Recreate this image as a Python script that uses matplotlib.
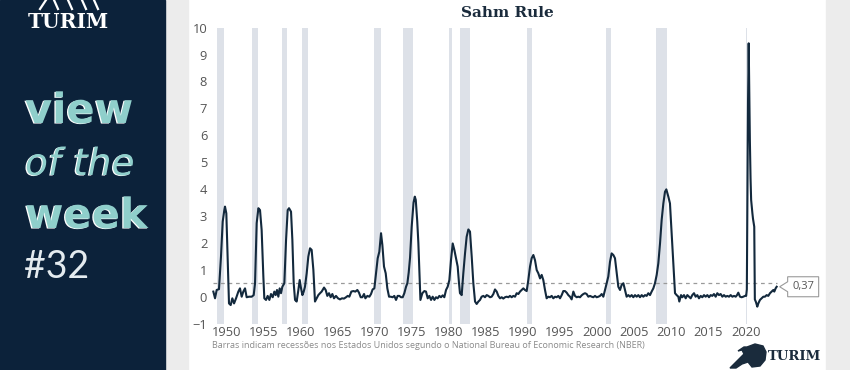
import matplotlib
matplotlib.use('Agg')
import matplotlib.pyplot as plt
import matplotlib.patheffects as pe
import matplotlib.transforms as mtransforms
from matplotlib.patches import Rectangle, Polygon

# NBER recessions (decimal years)
rec_start = [1948.83, 1953.50, 1957.58, 1960.25, 1969.92, 1973.83,
             1980.00, 1981.50, 1990.50, 2001.17, 2007.92, 2020.08]
rec_end = [1949.75, 1954.33, 1958.25, 1961.08, 1970.83, 1975.17,
           1980.50, 1982.83, 1991.17, 2001.83, 2009.42, 2020.25]

# Sahm rule indicator
years = [
    1948.27, 1948.50, 1948.72, 1949.03, 1949.30, 1949.53, 1949.75, 1949.84, 1950.02, 1950.20,
    1950.38, 1950.61, 1950.83, 1951.06, 1951.33, 1951.64, 1951.86, 1952.09, 1952.31, 1952.54,
    1952.76, 1953.08, 1953.44, 1953.71, 1953.89, 1954.11, 1954.34, 1954.56, 1954.78, 1955.01,
    1955.14, 1955.37, 1955.59, 1955.82, 1956.04, 1956.27, 1956.49, 1956.67, 1956.85, 1957.03,
    1957.21, 1957.39, 1957.57, 1957.84, 1958.07, 1958.29, 1958.47, 1958.74, 1958.92, 1959.10,
    1959.28, 1959.50, 1959.73, 1959.91, 1960.09, 1960.27, 1960.45, 1960.62, 1960.85, 1961.07,
    1961.30, 1961.52, 1961.75, 1961.97, 1962.20, 1962.42, 1962.65, 1962.87, 1963.19, 1963.41,
    1963.63, 1963.86, 1964.08, 1964.31, 1964.53, 1964.80, 1965.07, 1965.34, 1965.61, 1965.88,
    1966.15, 1966.38, 1966.60, 1966.87, 1967.14, 1967.41, 1967.68, 1967.90, 1968.13, 1968.35,
    1968.58, 1968.76, 1969.03, 1969.30, 1969.52, 1969.74, 1969.97, 1970.19, 1970.42, 1970.64,
    1970.87, 1971.05, 1971.27, 1971.50, 1971.72, 1971.95, 1972.17, 1972.44, 1972.66, 1972.89,
    1973.11, 1973.34, 1973.56, 1973.79, 1974.01, 1974.24, 1974.42, 1974.60, 1974.78, 1975.00,
    1975.25, 1975.42, 1975.55, 1975.75, 1975.90, 1976.02, 1976.18, 1976.44, 1976.71, 1976.93,
    1977.16, 1977.38, 1977.61, 1977.83, 1978.06, 1978.28, 1978.50, 1978.73, 1978.95, 1979.18,
    1979.40, 1979.63, 1979.85, 1980.08, 1980.30, 1980.53, 1980.75, 1981.02, 1981.20, 1981.38,
    1981.51, 1981.74, 1981.96, 1982.19, 1982.41, 1982.64, 1982.86, 1983.09, 1983.31, 1983.54,
    1983.76, 1983.99, 1984.21, 1984.43, 1984.66, 1984.88, 1985.11, 1985.33, 1985.56, 1985.78,
    1986.01, 1986.23, 1986.46, 1986.68, 1986.91, 1987.13, 1987.35, 1987.58, 1987.80, 1988.03,
    1988.25, 1988.48, 1988.70, 1988.93, 1989.15, 1989.38, 1989.60, 1989.83, 1990.05, 1990.27,
    1990.50, 1990.72, 1990.95, 1991.17, 1991.40, 1991.62, 1991.85, 1992.07, 1992.30, 1992.52,
    1992.74, 1992.97, 1993.19, 1993.42, 1993.64, 1993.87, 1994.09, 1994.32, 1994.54, 1994.77,
    1994.99, 1995.22, 1995.44, 1995.66, 1995.89, 1996.11, 1996.34, 1996.56, 1996.79, 1997.01,
    1997.24, 1997.46, 1997.69, 1997.91, 1998.14, 1998.36, 1998.58, 1998.81, 1999.03, 1999.26,
    1999.48, 1999.71, 1999.93, 2000.16, 2000.38, 2000.61, 2000.83, 2001.06, 2001.28, 2001.50,
    2001.73, 2001.95, 2002.18, 2002.40, 2002.63, 2002.85, 2003.08, 2003.30, 2003.53, 2003.75,
    2003.97, 2004.20, 2004.42, 2004.65, 2004.87, 2005.10, 2005.32, 2005.55, 2005.77, 2006.00,
    2006.22, 2006.45, 2006.67, 2006.89, 2007.12, 2007.34, 2007.57, 2007.79, 2008.02, 2008.24,
    2008.47, 2008.69, 2008.92, 2009.14, 2009.32, 2009.59, 2009.81, 2010.04, 2010.26, 2010.49,
    2010.71, 2010.94, 2011.07, 2011.30, 2011.48, 2011.70, 2011.93, 2012.15, 2012.38, 2012.60,
    2012.82, 2013.05, 2013.27, 2013.50, 2013.72, 2013.95, 2014.17, 2014.40, 2014.62, 2014.85,
    2015.07, 2015.30, 2015.52, 2015.74, 2015.97, 2016.19, 2016.42, 2016.64, 2016.87, 2017.09,
    2017.32, 2017.54, 2017.77, 2017.99, 2018.22, 2018.45, 2018.67, 2018.85, 2019.02, 2019.25,
    2019.47, 2019.69, 2019.92, 2020.08, 2020.17, 2020.25, 2020.33, 2020.42, 2020.50, 2020.58,
    2020.67, 2020.75, 2020.83, 2020.92, 2021.00, 2021.08, 2021.17, 2021.25, 2021.40, 2021.58,
    2021.72, 2021.94, 2022.17, 2022.39, 2022.61, 2022.84, 2023.06, 2023.29, 2023.51, 2023.74,
    2023.87, 2024.05, 2024.19,
]
sahm = [
    0.19, -0.06, 0.25, 0.28, 1.49, 2.79, 3.22, 3.35, 3.10, 1.49,
    -0.25, -0.31, -0.06, -0.25, -0.06, 0.19, 0.31, 0.00, 0.19, 0.31,
    -0.02, 0.00, 0.00, 0.06, 0.50, 2.73, 3.29, 3.22, 2.48, 0.75,
    -0.06, -0.12, 0.03, -0.12, 0.10, -0.02, 0.19, 0.06, 0.25, 0.00,
    0.31, 0.13, 0.37, 0.50, 2.11, 3.22, 3.29, 3.16, 2.11, 0.50,
    -0.12, -0.18, 0.25, 0.62, 0.31, 0.06, 0.19, 0.37, 0.87, 1.49,
    1.80, 1.74, 1.00, -0.18, -0.06, 0.06, 0.13, 0.19, 0.34, 0.25,
    0.03, 0.13, -0.02, 0.10, -0.06, 0.03, -0.06, -0.10, -0.06, -0.07,
    -0.02, 0.03, 0.00, 0.19, 0.21, 0.19, 0.25, 0.15, -0.02, -0.02,
    0.10, -0.06, 0.03, 0.00, 0.10, 0.27, 0.31, 0.87, 1.43, 1.67,
    2.36, 1.92, 1.12, 0.87, 0.31, 0.00, 0.00, -0.02, 0.03, -0.12,
    0.03, 0.03, -0.02, -0.02, 0.13, 0.37, 0.50, 0.90, 1.45, 2.60,
    3.50, 3.72, 3.60, 2.80, 2.00, 1.12, -0.12, 0.13, 0.21, 0.19,
    -0.06, 0.03, -0.12, 0.00, -0.12, -0.02, -0.06, 0.03, -0.02, 0.05,
    -0.02, 0.25, 0.37, 0.62, 1.36, 1.98, 1.74, 1.36, 1.12, 0.50,
    0.13, 0.06, 0.87, 1.61, 2.23, 2.50, 2.42, 1.49, 0.50, -0.18,
    -0.27, -0.18, -0.12, 0.00, 0.03, -0.02, 0.06, 0.03, -0.02, 0.00,
    0.10, 0.27, 0.19, 0.03, -0.06, -0.02, -0.07, -0.02, 0.00, -0.02,
    0.03, -0.02, 0.03, 0.00, 0.13, 0.10, 0.19, 0.25, 0.31, 0.25,
    0.21, 0.62, 1.12, 1.43, 1.55, 1.36, 0.99, 0.87, 0.68, 0.81,
    0.62, 0.25, -0.06, 0.00, -0.02, 0.03, -0.06, 0.00, -0.02, 0.03,
    -0.06, 0.06, 0.21, 0.21, 0.15, 0.06, 0.00, -0.10, 0.19, 0.03,
    -0.02, 0.00, -0.02, 0.05, 0.10, 0.13, 0.10, 0.00, 0.03, 0.00,
    -0.02, 0.03, -0.02, 0.00, 0.03, 0.10, 0.00, 0.25, 0.50, 0.75,
    1.30, 1.61, 1.55, 1.43, 0.87, 0.37, 0.25, 0.44, 0.50, 0.25,
    0.00, 0.06, 0.00, 0.06, -0.02, 0.06, 0.00, 0.06, -0.02, 0.06,
    0.00, 0.06, 0.03, 0.13, 0.06, 0.19, 0.31, 0.50, 0.81, 1.24,
    1.98, 2.85, 3.47, 3.90, 3.99, 3.72, 3.47, 2.36, 1.24, 0.13,
    0.06, 0.00, -0.18, 0.06, -0.02, 0.06, -0.06, 0.06, 0.00, -0.06,
    0.06, 0.13, 0.00, 0.06, -0.06, 0.03, -0.02, 0.06, 0.00, 0.06,
    -0.02, 0.06, 0.03, 0.10, 0.00, 0.13, 0.06, 0.10, 0.00, 0.06,
    0.00, 0.03, 0.00, 0.06, 0.00, 0.03, 0.00, 0.06, 0.15, 0.00,
    -0.02, 0.00, 0.03, 0.03, 0.27, 4.00, 7.20, 9.42, 7.60, 5.80,
    4.40, 3.60, 3.35, 3.10, 2.90, 2.75, 2.60, -0.10, -0.20, -0.37,
    -0.25, -0.12, -0.06, 0.00, 0.00, 0.06, 0.03, 0.13, 0.19, 0.25,
    0.19, 0.31, 0.37,
]

xtick_years = list(range(1950, 2021, 5))
ytick_vals = list(range(-1, 11))
threshold = 0.5

navy = '#0c223a'
teal = '#8fcfcb'
line_col = '#13293d'
bar_col = '#dde1e8'

W, H = 850, 370


def fx(x):
    return x / W


def fy(y):
    return 1 - y / H


fig = plt.figure(figsize=(W / 100, H / 100), dpi=100)
fig.patch.set_facecolor('white')

# side panels
fig.patches.append(Rectangle((fx(165), 0), fx(23), 1, transform=fig.transFigure,
                             color='#ececec', zorder=0))
fig.patches.append(Rectangle((fx(826), 0), fx(24), 1, transform=fig.transFigure,
                             color='#ececec', zorder=0))
fig.patches.append(Rectangle((0, 0), fx(165), 1, transform=fig.transFigure,
                             color=navy, zorder=1))

# left panel logo strokes
for x0, x1 in [(40, 46), (58, 54), (72, 68), (86, 82), (98, 94)]:
    fig.add_artist(plt.Line2D([fx(x0), fx(x1)], [fy(9), fy(0)], color='white', lw=1.6))
fig.text(fx(68), fy(22.5), 'TURIM', color='white', fontsize=14.5, fontweight='bold',
         family='DejaVu Serif', ha='center', va='center')

shadow = [pe.withSimplePatchShadow(offset=(-0.9, -0.4), shadow_rgbFace='white', alpha=1.0)]
fig.text(fx(25), fy(123), 'view', color=teal, fontsize=30, fontweight='bold',
         family='DejaVu Sans', va='baseline', path_effects=shadow)
fig.text(fx(25), fy(175), 'of the', color=teal, fontsize=27, style='italic',
         family='DejaVu Sans', va='baseline', path_effects=shadow)
fig.text(fx(25), fy(228), 'week', color=teal, fontsize=30, fontweight='bold',
         family='DejaVu Sans', va='baseline', path_effects=shadow)
fig.text(fx(24), fy(278), '#32', color='#e4ebef', fontsize=27,
         family='Lato', va='baseline')

# chart
ax = fig.add_axes([fx(210), fy(323.6), fx(570), (323.6 - 27.7) / H])
ax.set_facecolor('none')
ax.set_xlim(1947.82, 2024.64)
ax.set_ylim(-1, 10)

for s, e in zip(rec_start, rec_end):
    ax.axvspan(s, e, color=bar_col, lw=0, zorder=1)

ax.hlines(threshold, years[0], years[-1], colors='#9a9a9a',
          linestyles=(0, (3, 3)), lw=0.9, zorder=2)
ax.plot(years, sahm, color=line_col, lw=1.5, zorder=3, solid_joinstyle='round')

for sp in ax.spines.values():
    sp.set_visible(False)
ax.set_xticks(xtick_years)
ax.set_yticks(ytick_vals)
ax.tick_params(length=0, labelsize=9.3, labelcolor='#555555')
ax.tick_params(axis='x', pad=2)
ax.tick_params(axis='y', pad=2)
for lab in ax.get_xticklabels() + ax.get_yticklabels():
    lab.set_family('Open Sans')

fig.text(fx(507), fy(13), 'Sahm Rule', fontsize=11, fontweight='bold', family='DejaVu Serif',
         color='#1a2b3c', ha='center', va='center')

# last value callout
last_t, last_v = years[-1], sahm[-1]
trans = fig.dpi_scale_trans + mtransforms.ScaledTranslation(last_t, last_v, ax.transData)
callout = [(3, 0), (11, 5), (11, 10), (42, 10), (42, -10), (11, -10), (11, -5)]
ax.add_patch(Polygon([(a / 100, b / 100) for a, b in callout], closed=True,
                     transform=trans, fc='white', ec='#9a9a9a', lw=0.8,
                     clip_on=False, zorder=4))
ax.annotate(f'{last_v:.2f}'.replace('.', ','), xy=(last_t, last_v), xytext=(19, 0),
            textcoords='offset points', ha='center', va='center', fontsize=8,
            color='#555555', family='Open Sans', zorder=5, annotation_clip=False)

fig.text(fx(212), fy(345), 'Barras indicam recessões nos Estados Unidos segundo o '
         'National Bureau of Economic Research (NBER)', fontsize=6.5, color='#8a8a8a',
         family='Open Sans', ha='left', va='center')

# bottom-right logo
bull = [(747, 347), (755, 344), (763, 346), (766, 352), (765, 360), (760, 366),
        (752, 367), (748, 362), (742, 364), (736, 368), (730, 368), (735, 363),
        (740, 358), (744, 354), (742, 350), (738, 351), (744, 347)]
fig.patches.append(Polygon([(fx(a), fy(b)) for a, b in bull], closed=True,
                           transform=fig.transFigure, color='#1a2b3c', zorder=3))
fig.text(fx(794), fy(356), 'TURIM', fontsize=9.5, fontweight='bold', family='DejaVu Serif',
         color='#1a2b3c', ha='center', va='center')

fig.savefig('out.png', dpi=100)
